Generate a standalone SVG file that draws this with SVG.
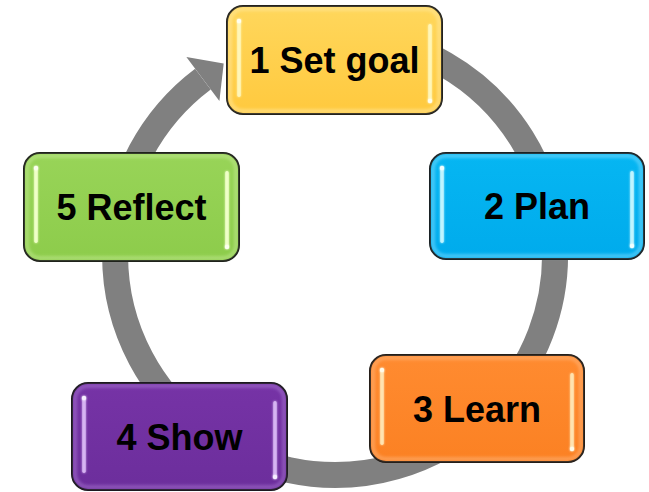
<svg xmlns="http://www.w3.org/2000/svg" width="649" height="492" viewBox="0 0 649 492">
  <defs>
    <style>
      .box { stroke: #111; stroke-width: 2; }
      .rim { fill: none; stroke-width: 4; opacity: 0.55; filter: url(#soft); }
      .bar { filter: url(#glow); }
      .dot { filter: url(#glow); }
      .label { font-family: "Liberation Sans", Arial, sans-serif; font-weight: bold; font-size: 36px; fill: #000; text-anchor: middle; }
      .ring { fill: none; stroke: #808080; stroke-width: 26; }
      .head { fill: #808080; }
    </style>
    <filter id="soft" x="-10%" y="-10%" width="120%" height="120%">
      <feGaussianBlur stdDeviation="1.6"/>
    </filter>
    <filter id="glow" x="-300%" y="-20%" width="700%" height="140%">
      <feGaussianBlur in="SourceGraphic" stdDeviation="1.3" result="b"/>
      <feMerge>
        <feMergeNode in="b"/>
        <feMergeNode in="SourceGraphic"/>
      </feMerge>
    </filter>
    <linearGradient id="gYellow" x1="0" y1="0" x2="0" y2="1">
      <stop offset="0" stop-color="#FFD75C"/>
      <stop offset="1" stop-color="#FFC93E"/>
    </linearGradient>
    <linearGradient id="gBlue" x1="0" y1="0" x2="0" y2="1">
      <stop offset="0" stop-color="#06B6F2"/>
      <stop offset="1" stop-color="#00ABEC"/>
    </linearGradient>
    <linearGradient id="gOrange" x1="0" y1="0" x2="0" y2="1">
      <stop offset="0" stop-color="#FF8B30"/>
      <stop offset="1" stop-color="#FB8123"/>
    </linearGradient>
    <linearGradient id="gPurple" x1="0" y1="0" x2="0" y2="1">
      <stop offset="0" stop-color="#7633A6"/>
      <stop offset="1" stop-color="#6C2E9C"/>
    </linearGradient>
    <linearGradient id="gGreen" x1="0" y1="0" x2="0" y2="1">
      <stop offset="0" stop-color="#98D458"/>
      <stop offset="1" stop-color="#8DCC4B"/>
    </linearGradient>
  </defs>

  <rect width="649" height="492" fill="#fff"/>

  <!-- circular flow arrow running clockwise behind the steps -->
  <g id="connectors">
    <path class="ring" d="M 354.2 35.8 A 220 220 0 1 1 202.9 79.1"/>
    <polygon class="head" points="186.4,57.1 223.7,63.5 219.4,101.1"/>
  </g>

  <g id="step1">
    <rect class="box" x="227" y="6" width="215" height="108" rx="16" fill="url(#gYellow)"/>
    <rect class="rim" x="230" y="9" width="209" height="102" rx="13" stroke="#FFE9A0"/>
    <rect class="bar" x="237.3" y="20" width="3.4" height="77" rx="1.7" fill="#FFF6B8"/>
    <rect class="bar" x="428.3" y="24" width="3.4" height="78" rx="1.7" fill="#FFF6B8"/>
    <circle class="dot" cx="239" cy="21" r="2.2" fill="#FFFFF0"/>
    <circle class="dot" cx="430" cy="101" r="2.2" fill="#FFFFF0"/>
    <text class="label" x="334.5" y="73">1 Set goal</text>
  </g>

  <g id="step2">
    <rect class="box" x="430" y="153" width="214" height="106" rx="16" fill="url(#gBlue)"/>
    <rect class="rim" x="433" y="156" width="208" height="100" rx="13" stroke="#7FDDFF"/>
    <rect class="bar" x="440.3" y="167" width="3.4" height="76" rx="1.7" fill="#BFF4FF"/>
    <rect class="bar" x="630.3" y="171" width="3.4" height="76" rx="1.7" fill="#BFF4FF"/>
    <circle class="dot" cx="442" cy="168" r="2.2" fill="#F0FFFF"/>
    <circle class="dot" cx="632" cy="246" r="2.2" fill="#F0FFFF"/>
    <text class="label" x="537" y="219">2 Plan</text>
  </g>

  <g id="step3">
    <rect class="box" x="370" y="355" width="214" height="107" rx="16" fill="url(#gOrange)"/>
    <rect class="rim" x="373" y="358" width="208" height="101" rx="13" stroke="#FFB57A"/>
    <rect class="bar" x="380.3" y="369" width="3.4" height="76" rx="1.7" fill="#FFE3B0"/>
    <rect class="bar" x="570.3" y="373" width="3.4" height="77" rx="1.7" fill="#FFE3B0"/>
    <circle class="dot" cx="382" cy="370" r="2.2" fill="#FFFBEA"/>
    <circle class="dot" cx="572" cy="449" r="2.2" fill="#FFFBEA"/>
    <text class="label" x="477" y="421.5">3 Learn</text>
  </g>

  <g id="step4">
    <rect class="box" x="72" y="383" width="215" height="107" rx="16" fill="url(#gPurple)"/>
    <rect class="rim" x="75" y="386" width="209" height="101" rx="13" stroke="#A775D0"/>
    <rect class="bar" x="82.3" y="397" width="3.4" height="76" rx="1.7" fill="#D6B4F2"/>
    <rect class="bar" x="273.3" y="401" width="3.4" height="77" rx="1.7" fill="#D6B4F2"/>
    <circle class="dot" cx="84" cy="398" r="2.2" fill="#F6EEFF"/>
    <circle class="dot" cx="275" cy="477" r="2.2" fill="#F6EEFF"/>
    <text class="label" x="179.5" y="449.5">4 Show</text>
  </g>

  <g id="step5">
    <rect class="box" x="24" y="153" width="215" height="108" rx="16" fill="url(#gGreen)"/>
    <rect class="rim" x="27" y="156" width="209" height="102" rx="13" stroke="#C2EA92"/>
    <rect class="bar" x="34.3" y="167" width="3.4" height="76" rx="1.7" fill="#EFFFC8"/>
    <rect class="bar" x="225.3" y="171" width="3.4" height="77" rx="1.7" fill="#EFFFC8"/>
    <circle class="dot" cx="36" cy="168" r="2.2" fill="#FCFFF0"/>
    <circle class="dot" cx="227" cy="247" r="2.2" fill="#FCFFF0"/>
    <text class="label" x="131.5" y="220">5 Reflect</text>
  </g>
</svg>
